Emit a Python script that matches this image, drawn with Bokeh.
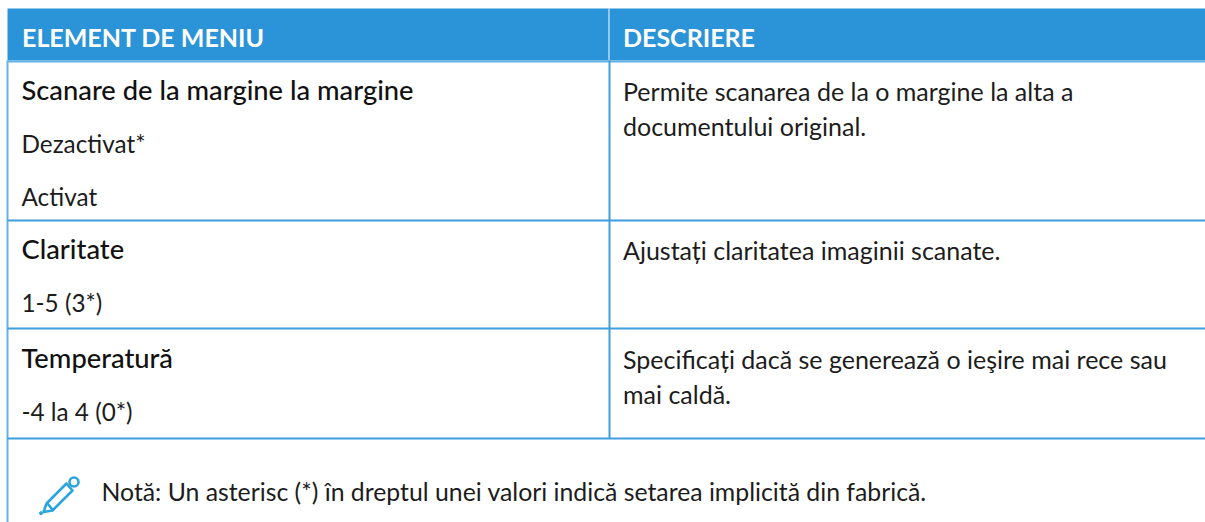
from bokeh.plotting import figure
from bokeh.embed import file_html
from bokeh.resources import INLINE
from bokeh.core.properties import value
from bokeh.models import Range1d

HEADERS = ["ELEMENT DE MENIU", "DESCRIERE"]
ITEM_TITLES = ["Scanare de la margine la margine", "Claritate", "Temperatură"]
ITEM_VALUES = ["Dezactivat*", "Activat", "1-5 (3*)", "-4 la 4 (0*)"]
DESCRIPTIONS = ["Permite scanarea de la o margine la alta a", "documentului original.",
                "Ajustați claritatea imaginii scanate.",
                "Specificați dacă se generează o ieşire mai rece sau", "mai caldă."]
NOTE = "Notă: Un asterisc (*) în dreptul unei valori indică setarea implicită din fabrică."

W, H = 1205, 522
BLUE = "#2b93d7"
LINE = "#3f9edc"
LIGHT = "#63b2e6"
INK = "#1c1c1c"
FONT = "Lato"
BASE_SHIFT = 0.4

p = figure(width=W, height=H, output_backend="svg", toolbar_location=None,
           x_range=Range1d(0, W), y_range=Range1d(H, 0), min_border=0,
           outline_line_color=None)
p.xaxis.visible = False
p.yaxis.visible = False
p.grid.visible = False

p.quad(left=[7], right=[W], top=[8], bottom=[60], color=BLUE, line_color=None)
p.quad(left=[608], right=[609], top=[8], bottom=[60], color="white", line_color=None)
p.quad(left=[7], right=[W], top=[60], bottom=[62], color=LIGHT, line_color=None)
p.quad(left=[6], right=[8], top=[60], bottom=[H], color=LIGHT, line_color=None)
p.quad(left=[608], right=[610], top=[60], bottom=[438], color=LINE, line_color=None)
for y in (219, 327, 437):
    p.quad(left=[7], right=[W], top=[y], bottom=[y + 2], color=LINE, line_color=None)


def txt(x, y, s, size, color=INK, style="normal", font=FONT):
    p.text(x=[x], y=[y - size * BASE_SHIFT], text=[s], text_font=value(font), text_font_size=f"{size}px",
           text_color=color, text_baseline="alphabetic", text_align="left", text_font_style=style)


txt(21.5, 46, HEADERS[0], 25, "white", "bold")
txt(622.5, 46, HEADERS[1], 25, "white", "bold")

for s, y in zip(ITEM_TITLES, (100, 259, 368)):
    txt(21, y, s, 27.3, "#111111", "normal", "Lato Medium")
for s, y in zip(ITEM_VALUES, (153, 206, 312, 421)):
    txt(21, y, s, 24.3)
for s, y in zip(DESCRIPTIONS, (100, 135, 259, 368, 403)):
    txt(622.5, y, s, 25)
txt(101, 501, NOTE, 24.8)

# pencil icon
ICON = "#2ba3dd"
p.multi_line(xs=[[46, 66, 72, 52, 43, 46], [47, 52]],
             ys=[[503, 483, 490, 510, 511.5, 503], [503, 509]],
             line_color=ICON, line_width=2.6, line_join="round")
p.scatter(x=[73.5], y=[481.5], size=9, fill_color="white", line_color=ICON, line_width=2.6)
p.scatter(x=[40.5], y=[512.7], size=3, color=ICON)

open("out.html", "w").write(file_html(p, INLINE))
